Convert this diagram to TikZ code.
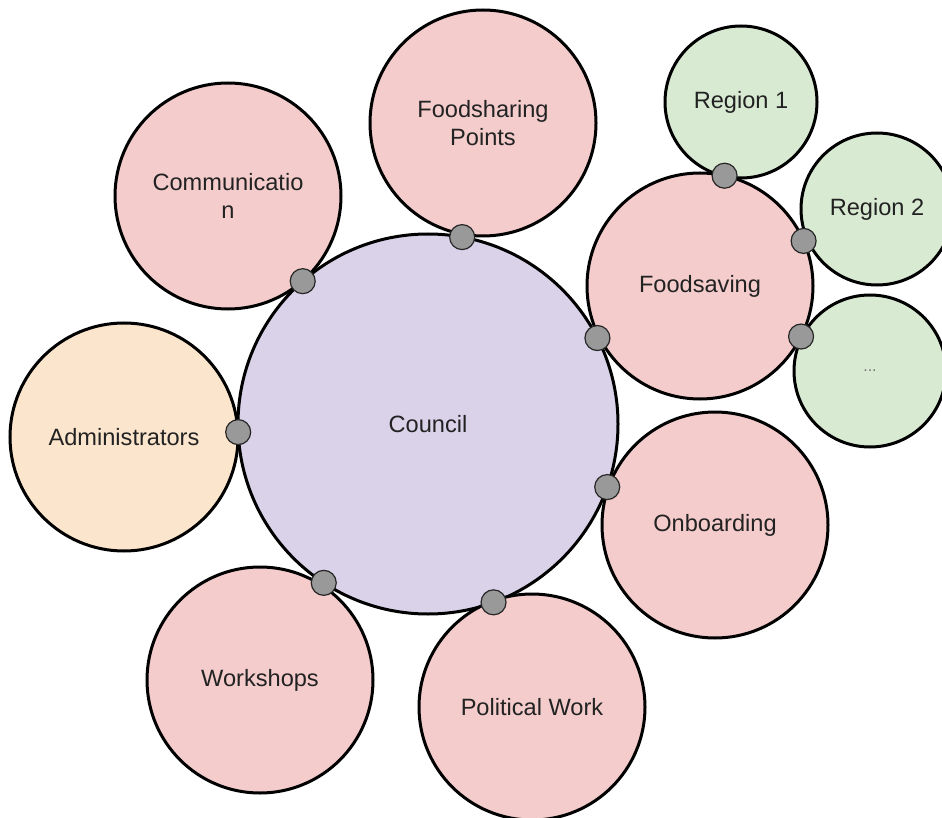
\documentclass[tikz,border=0pt]{standalone}
\usepackage{fontspec}
\setmainfont{Liberation Sans}
\usetikzlibrary{calc}
\definecolor{CouncilPurple}{HTML}{D9D2E9}
\definecolor{TeamPink}{HTML}{F4CCCC}
\definecolor{AdminOrange}{HTML}{FCE5CD}
\definecolor{RegionGreen}{HTML}{D9EAD3}
\definecolor{LinkGray}{HTML}{999999}
\definecolor{LabelGray}{HTML}{222222}

\tikzset{
  bubble/.style={circle, draw=black, line width=1.5pt, align=center, inner sep=0pt,
    text=LabelGray, font=\fontsize{11.8}{13.6}\selectfont},
  council/.style={bubble, fill=CouncilPurple, minimum size=190pt},
  team/.style={bubble, fill=TeamPink, minimum size=113pt},
  admins/.style={bubble, fill=AdminOrange, minimum size=114pt},
  region/.style={bubble, fill=RegionGreen, minimum size=76pt},
  link/.style={circle, fill=LinkGray, draw=black!85, line width=0.6pt, minimum size=12.5pt, inner sep=0pt}
}

\begin{document}
\begin{tikzpicture}[x=0.5pt,y=0.5pt,yscale=-1,xscale=1]
		% Fix the page to the size of the diagram
		\useasboundingbox (0,0) rectangle (942,818);

		% The council in the middle
		\node[council] (council) at (428,424) {Council};

		% The teams round the council
		\node[team] (fsp) at (483,123) {Foodsharing\\Points};
		\node[team] (comm) at (228,196) {Communicatio\\n};
		\node[admins] (admin) at (124,437) {Administrators};
		\node[team] (workshops) at (260,680) {Workshops};
		\node[team] (political) at (532,707) {Political Work};
		\node[team] (onboarding) at (715,525) {Onboarding};
		\node[team] (foodsaving) at (700,286) {Foodsaving};

		% The regions round foodsaving
		\node[region] (region1) at (741,102) {Region 1};
		\node[region] (region2) at (877,209) {Region 2};
		\node[region, text=black!55, font=\fontsize{8}{10}\selectfont] (regionmore) at (870,371) {...};

		% The links where the circles touch
		\foreach \team in {fsp,comm,admin,workshops,political,onboarding,foodsaving}
			\node[link] at ($(council.center)!95pt!(\team.center)$) {};
		\foreach \reg in {region1,region2,regionmore}
			\node[link] at ($(foodsaving.center)!56.5pt!(\reg.center)$) {};
	\end{tikzpicture}
\end{document}
